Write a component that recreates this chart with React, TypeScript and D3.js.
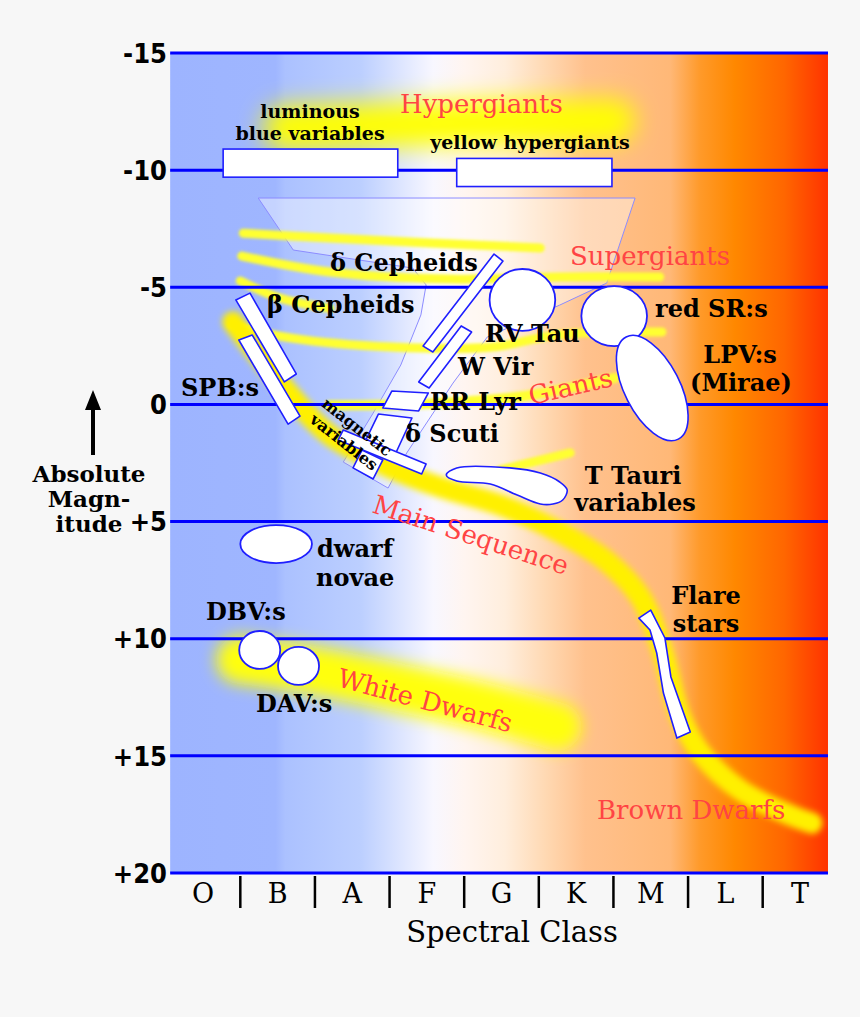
import React from 'react';
import * as d3 from 'd3';

// spectral classes along the bottom, magnitudes up the side
const classes = ['O', 'B', 'A', 'F', 'G', 'K', 'M', 'L', 'T'];
const magTicks = [-15, -10, -5, 0, 5, 10, 15, 20];
const magLabels = ['-15', '-10', '-5', '0', '+5', '+10', '+15', '+20'];

// regions in (class index, absolute magnitude)
const rectRegions = [
  { name: 'luminous blue variables', s: [0.27, 2.61], m: [-10.9, -9.7] },
  { name: 'yellow hypergiants', s: [3.4, 5.48], m: [-10.5, -9.3] },
];

const barRegions = [
  { name: 'beta Cepheids', pts: [[0.44, -4.46], [0.63, -4.75], [1.25, -1.3], [1.09, -0.96]] },
  { name: 'SPB', pts: [[0.48, -2.75], [0.66, -2.96], [1.3, 0.5], [1.14, 0.84]] },
  { name: 'delta Cepheids', pts: [[2.95, -2.49], [3.08, -2.24], [4.02, -6.12], [3.9, -6.42]] },
  { name: 'W Vir', pts: [[2.89, -0.96], [3.03, -0.7], [3.6, -3.09], [3.46, -3.35]] },
  { name: 'RR Lyr', pts: [[2.41, 0.15], [2.89, 0.28], [3.02, -0.49], [2.53, -0.57]] },
  { name: 'delta Scuti', pts: [[2.35, 0.41], [2.8, 0.58], [2.59, 2.03], [2.13, 1.86]] },
  { name: 'magnetic', pts: [[1.88, 1.09], [2.99, 2.54], [2.93, 2.97], [1.81, 1.52]] },
  { name: 'magnetic 2', pts: [[2.01, 2.71], [2.28, 3.18], [2.41, 2.37], [2.13, 1.95]] },
  {
    name: 'flare stars',
    pts: [[5.84, 9.12], [6.0, 8.78], [6.19, 9.97], [6.27, 11.63], [6.53, 13.98], [6.35, 14.24], [6.17, 12.32], [6.08, 10.61], [5.99, 9.63]],
  },
];

const ovalRegions = [
  { name: 'RV Tau', c: [4.28, -4.46], r: [0.44, 1.32] },
  { name: 'red SR', c: [5.51, -3.77], r: [0.44, 1.28] },
  { name: 'dwarf novae', c: [0.98, 5.96], r: [0.48, 0.81] },
  { name: 'DBV', c: [0.76, 10.48], r: [0.275, 0.81] },
  { name: 'DAV', c: [1.28, 11.16], r: [0.275, 0.81] },
];

// LPV: long axis ends, half width in class units
const lpvAxis = [[5.67, -2.88], [6.37, 1.48]];
const lpvHalfWidth = 0.37;

const tTauri = [
  [3.26, 3.01], [3.4, 2.71], [4.11, 2.71], [4.52, 2.93], [4.78, 3.31], [4.88, 3.65],
  [4.82, 4.08], [4.69, 4.25], [4.52, 4.25], [4.21, 3.87], [3.85, 3.4], [3.4, 3.27],
];

const instabilityStrip = [
  [0.74, -8.81], [5.79, -8.81], [5.41, -5.18], [4.78, -4.24], [3.81, -2.88], [3.35, -0.91],
  [2.73, 2.07], [2.48, 3.57], [1.88, 2.46], [2.28, 0.37], [2.65, -1.68], [2.92, -3.82],
  [2.99, -5.1], [2.81, -5.82], [1.21, -6.59],
];

// yellow tracks
const hypergiantGlow = [[1.1, -11.8], [3.2, -12.0], [5.5, -12.1]];
const whiteDwarfGlow = [[0.5, 10.9], [1.57, 11.4], [2.64, 12.1], [3.71, 12.85], [4.75, 13.75]];
const mainSequence = [
  [0.4, -3.52], [0.79, -1.9], [1.17, -0.4], [1.7, 1.31], [2.51, 2.71], [3.18, 3.53],
  [3.98, 4.29], [4.78, 5.45], [5.39, 6.64], [5.86, 8.22], [6.15, 10.48], [6.39, 13.26],
  [6.66, 14.84], [7.2, 16.46], [7.87, 17.53], [8.16, 17.87],
];
const supergiantTracks = [
  [[0.54, -7.31], [1.7, -7.1], [3.04, -6.89], [4.52, -6.68]],
  [[0.52, -6.33], [1.7, -5.65], [3.31, -5.35], [4.78, -5.44], [6.12, -5.44]],
  [[0.5, -5.27], [1.03, -4.54], [1.7, -4.1]],
  [[0.39, -3.39], [1.19, -2.83], [2.53, -2.45], [3.87, -2.45], [4.76, -2.97], [6.15, -3.09]],
];
const giantTrack = [[1.7, 0.03], [2.91, -0.02], [4.31, -0.36], [5.52, -1.13]];
const subgiantTrack = [[3.98, 2.8], [4.92, 2.07]];

const W = 860;
const H = 1017;
const x = d3.scaleLinear().domain([0, 8]).range([203, 800]);
const y = d3.scaleLinear().domain([-15, 20]).range([53, 873]);
const left = x(-0.44);
const right = x(8.375);

const open = d3.line().x((d) => x(d[0])).y((d) => y(d[1])).curve(d3.curveCatmullRom);
const closed = d3.line().x((d) => x(d[0])).y((d) => y(d[1])).curve(d3.curveLinearClosed);
const smooth = d3.line().x((d) => x(d[0])).y((d) => y(d[1])).curve(d3.curveCatmullRomClosed);

const serif = "'DejaVu Serif', serif";
const red = '#ff4444';
const markStroke = '#1f1fff';

const Blur = ({ id, sd }) => (
  <filter id={id} filterUnits="userSpaceOnUse" x={0} y={0} width={W} height={H}>
    <feGaussianBlur stdDeviation={sd} />
  </filter>
);

const App = () => {
  const lpvA = [x(lpvAxis[0][0]), y(lpvAxis[0][1])];
  const lpvB = [x(lpvAxis[1][0]), y(lpvAxis[1][1])];
  const lpvC = [(lpvA[0] + lpvB[0]) / 2, (lpvA[1] + lpvB[1]) / 2];
  const lpvLen = Math.hypot(lpvB[0] - lpvA[0], lpvB[1] - lpvA[1]) / 2;
  const lpvAng = (Math.atan2(lpvB[1] - lpvA[1], lpvB[0] - lpvA[0]) * 180) / Math.PI;

  const label = { fontFamily: serif, fontWeight: 'bold', fontSize: 24, fill: '#000' };
  const redLabel = { fontFamily: serif, fontSize: 26, fill: red };

  return (
    <svg width={W} height={H} style={{ position: 'absolute', left: 0, top: 0 }}>
      <defs>
        <linearGradient id="bg" x1="0" x2="1" y1="0" y2="0">
          <stop offset="0" stopColor="#9db4ff" />
          <stop offset="0.16" stopColor="#9fb6ff" />
          <stop offset="0.175" stopColor="#abc1ff" />
          <stop offset="0.29" stopColor="#bccfff" />
          <stop offset="0.35" stopColor="#dde5ff" />
          <stop offset="0.40" stopColor="#f8f7ff" />
          <stop offset="0.448" stopColor="#fff5f0" />
          <stop offset="0.509" stopColor="#ffeedd" />
          <stop offset="0.57" stopColor="#ffd9b3" />
          <stop offset="0.631" stopColor="#ffc18d" />
          <stop offset="0.76" stopColor="#ffb877" />
          <stop offset="0.805" stopColor="#ff9a2a" />
          <stop offset="0.858" stopColor="#ff8800" />
          <stop offset="0.934" stopColor="#ff6600" />
          <stop offset="1" stopColor="#ff3300" />
        </linearGradient>
        <Blur id="glowWide" sd={12} />
        <Blur id="glowMid" sd={8} />
        <Blur id="glow" sd={3} />
        <Blur id="glowThin" sd={1.8} />
      </defs>

      <rect width={W} height={H} fill="#f7f7f7" />
      <rect x={left} y={y(-15)} width={right - left} height={y(20) - y(-15)} fill="url(#bg)" />

      {/* broad glows */}
      <path d={open(hypergiantGlow)} fill="none" stroke="#ffff00" strokeWidth={44} strokeLinecap="round" filter="url(#glowWide)" />
      <path d={open(whiteDwarfGlow)} fill="none" stroke="#ffff10" strokeWidth={48} strokeLinecap="round" filter="url(#glowMid)" />

      {/* instability strip */}
      <path d={closed(instabilityStrip)} fill="#ffffff" fillOpacity={0.4} stroke="#8c8cff" strokeWidth={1} />

      {/* evolutionary tracks */}
      {supergiantTracks.map((t, i) => (
        <path key={i} d={open(t)} fill="none" stroke="#ffff30" strokeWidth={9} strokeLinecap="round" filter="url(#glowThin)" />
      ))}
      <path d={open(giantTrack)} fill="none" stroke="#ffff30" strokeWidth={10} strokeLinecap="round" filter="url(#glowThin)" />
      <path d={open(subgiantTrack)} fill="none" stroke="#ffff30" strokeWidth={9} strokeLinecap="round" filter="url(#glowThin)" />
      <path d={open(mainSequence)} fill="none" stroke="#fff000" strokeWidth={21} strokeLinecap="round" filter="url(#glow)" />

      {/* grid lines */}
      {magTicks.map((m) => (
        <line key={m} x1={left} x2={right} y1={y(m)} y2={y(m)} stroke="#0000ff" strokeWidth={3} />
      ))}

      {/* variable star regions */}
      {rectRegions.map((r) => (
        <rect
          key={r.name}
          x={x(r.s[0])}
          y={y(r.m[0])}
          width={x(r.s[1]) - x(r.s[0])}
          height={y(r.m[1]) - y(r.m[0])}
          fill="#fff"
          stroke={markStroke}
          strokeWidth={1.6}
        />
      ))}
      {barRegions.map((b) => (
        <path key={b.name} d={closed(b.pts)} fill="#fff" stroke={markStroke} strokeWidth={1.6} strokeLinejoin="round" />
      ))}
      {ovalRegions.map((o) => (
        <ellipse
          key={o.name}
          cx={x(o.c[0])}
          cy={y(o.c[1])}
          rx={x(o.r[0]) - x(0)}
          ry={y(o.r[1]) - y(0)}
          fill="#fff"
          stroke={markStroke}
          strokeWidth={1.8}
        />
      ))}
      <ellipse
        cx={0}
        cy={0}
        rx={lpvLen}
        ry={x(lpvHalfWidth) - x(0)}
        transform={`translate(${lpvC[0]},${lpvC[1]}) rotate(${lpvAng})`}
        fill="#fff"
        stroke={markStroke}
        strokeWidth={1.6}
      />
      <path d={smooth(tTauri)} fill="#fff" stroke={markStroke} strokeWidth={1.6} />

      {/* red sequence names */}
      <text x={400} y={113} style={redLabel}>Hypergiants</text>
      <text x={570} y={265} style={redLabel}>Supergiants</text>
      <text x={531} y={405} transform="rotate(-13 531 405)" style={redLabel}>Giants</text>
      <text x={371} y={512} transform="rotate(18 371 512)" style={redLabel}>Main Sequence</text>
      <text x={336} y={686} transform="rotate(15 336 686)" style={redLabel}>White Dwarfs</text>
      <text x={597} y={819} style={redLabel}>Brown Dwarfs</text>

      {/* black labels */}
      <g style={{ ...label, fontSize: 19 }} textAnchor="middle">
        <text x={310} y={118}>luminous</text>
        <text x={310} y={140}>blue variables</text>
        <text x={530} y={149}>yellow hypergiants</text>
      </g>
      <g style={label}>
        <text x={330} y={271}>δ Cepheids</text>
        <text x={267} y={313}>β Cepheids</text>
        <text x={181} y={396}>SPB:s</text>
        <text x={485} y={342}>RV Tau</text>
        <text x={458} y={375}>W Vir</text>
        <text x={430} y={410}>RR Lyr</text>
        <text x={405} y={442}>δ Scuti</text>
        <text x={655} y={317}>red SR:s</text>
        <text x={317} y={557}>dwarf</text>
        <text x={316} y={586}>novae</text>
        <text x={206} y={620}>DBV:s</text>
        <text x={256} y={712}>DAV:s</text>
      </g>
      <g style={label} textAnchor="middle">
        <text x={740} y={363}>LPV:s</text>
        <text x={741} y={391}>(Mirae)</text>
        <text x={633} y={484}>T Tauri</text>
        <text x={635} y={511}>variables</text>
        <text x={706} y={604}>Flare</text>
        <text x={706} y={632}>stars</text>
      </g>
      <g style={{ ...label, fontSize: 16 }} textAnchor="middle">
        <text x={357} y={427} dy="0.35em" transform="rotate(38 357 427)">magnetic</text>
        <text x={344} y={442} dy="0.35em" transform="rotate(38 344 442)">variables</text>
      </g>

      {/* magnitude axis */}
      <g style={{ fontFamily: "'DejaVu Sans', sans-serif", fontWeight: 'bold', fontSize: 27, fontStretch: 'condensed' }} textAnchor="end">
        {magTicks.map((m, i) => (
          <text key={m} x={167} y={y(m)} dy="0.36em">{magLabels[i]}</text>
        ))}
      </g>
      <g style={{ ...label, fontSize: 23 }} textAnchor="middle">
        <text x={89} y={482}>Absolute</text>
        <text x={89} y={507}>Magn-</text>
        <text x={89} y={532}>itude</text>
      </g>
      <line x1={93} x2={93} y1={455} y2={408} stroke="#000" strokeWidth={4} />
      <path d="M93,390 L85,410 L101,410 Z" fill="#000" />

      {/* spectral class axis */}
      <g style={{ fontFamily: serif, fontSize: 27 }} textAnchor="middle">
        {classes.map((c, i) => (
          <text key={c} x={x(i)} y={903}>{c}</text>
        ))}
        <text x={512} y={942} style={{ fontSize: 29 }}>Spectral Class</text>
      </g>
      {classes.slice(1).map((c, i) => (
        <line key={c} x1={x(i + 0.5)} x2={x(i + 0.5)} y1={876} y2={908} stroke="#000" strokeWidth={2.5} />
      ))}
    </svg>
  );
};

export default App;
